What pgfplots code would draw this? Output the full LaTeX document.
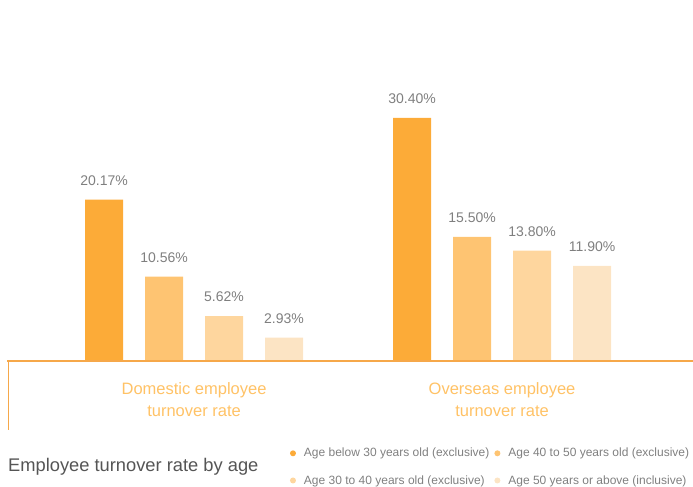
\documentclass[border=0pt]{standalone}
\usepackage{fontspec}
\setmainfont{Liberation Sans}
\usepackage{pgfplots}
\pgfplotsset{compat=1.18}
\definecolor{cA}{HTML}{FCAB38}
\definecolor{cB}{HTML}{FEC472}
\definecolor{cC}{HTML}{FED69E}
\definecolor{cD}{HTML}{FCE4C4}
\definecolor{axisorange}{HTML}{F6A84A}
\definecolor{catorange}{HTML}{FFC266}
\definecolor{valgray}{HTML}{7F7F7F}
\definecolor{titlegray}{HTML}{555555}
\definecolor{leggray}{HTML}{808080}
\begin{document}
\begin{tikzpicture}[x=1bp,y=1bp]
\path[use as bounding box] (0,0) rectangle (693,487);
\begin{axis}[
  at={(8bp,126bp)}, anchor=south west,
  width=685bp, height=361bp, scale only axis,
  xmin=-0.604, xmax=1.620, ymin=0, ymax=45.125,
  axis line style={draw=none},
  ytick=\empty, xtick={0,1},
  xticklabels={{Domestic employee\\turnover rate},{Overseas employee\\turnover rate}},
  major tick length=0pt,
  xticklabel style={align=center, anchor=center, yshift=-39bp, text=catorange, font=\fontsize{16.5bp}{22bp}\selectfont},
  clip=false,
  ybar=22bp, bar width=38bp,
  /pgf/number format/assume math mode=true,
  nodes near coords={\pgfmathprintnumber[fixed,zerofill,precision=2]{\pgfplotspointmeta}\%},
  every node near coord/.append style={font=\fontsize{14bp}{16bp}\selectfont, text=valgray, inner sep=0pt, anchor=south, yshift=14bp},
  legend columns=2,
  legend style={at={(axis description cs:0.407,-0.23)}, anchor=north west, draw=none, fill=none,
    font=\fontsize{12bp}{14bp}\selectfont, text=leggray, legend cell align=left,
    row sep=13bp,
    /tikz/every odd column/.append style={column sep=6bp},
    /tikz/every even column/.append style={column sep=3bp}},
]
\addplot[fill=cA, draw=none, legend image code/.code={\fill[cA] (3bp,0bp) circle (3bp);}] coordinates {(0,20.17) (1,30.40)};
\addlegendentry{Age below 30 years old (exclusive)}
\addplot[fill=cB, draw=none, legend image code/.code={\fill[cB] (3bp,0bp) circle (3bp);}] coordinates {(0,10.56) (1,15.50)};
\addlegendentry{Age 40 to 50 years old (exclusive)}
\addplot[fill=cC, draw=none, legend image code/.code={\fill[cC] (3bp,0bp) circle (3bp);}] coordinates {(0,5.62) (1,13.80)};
\addlegendentry{Age 30 to 40 years old (exclusive)}
\addplot[fill=cD, draw=none, legend image code/.code={\fill[cD] (3bp,0bp) circle (3bp);}] coordinates {(0,2.93) (1,11.90)};
\addlegendentry{Age 50 years or above (inclusive)}
\end{axis}
\draw[axisorange, line width=1.5bp] (7,126) -- (693,126);
\draw[axisorange, line width=1.5bp] (8.5,126) -- (8.5,57);
\node[anchor=base west, inner sep=0pt, font=\fontsize{18.3bp}{20bp}\selectfont, text=titlegray] at (8,15.5) {Employee turnover rate by age};
\end{tikzpicture}
\end{document}
